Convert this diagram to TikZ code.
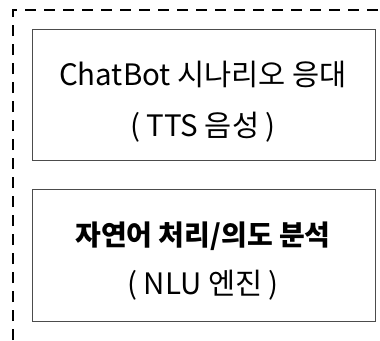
\documentclass[tikz,border=0pt]{standalone}
\usepackage{fontspec}
\setmainfont{Noto Sans CJK KR}
\begin{document}
\begin{tikzpicture}[x=1pt,y=-1pt,
  panel/.style={draw=black!70,line width=1.3pt,fill=white},
  txt/.style={font=\fontsize{29.5}{34}\selectfont,anchor=center,inner sep=0pt},
  outerdash/.style={draw=black,line width=2pt,dash pattern=on 11pt off 8pt}]
\useasboundingbox (0,0) rectangle (380,340);
\coordinate (tl) at (13,10);
\coordinate (tr) at (380,10);
\coordinate (bl) at (13,340);
\draw[outerdash] (bl) -- (tl) -- (tr);
\node[panel,minimum width=343pt,minimum height=131pt,anchor=north west] (b1) at (32,29) {};
\node[panel,minimum width=343pt,minimum height=132pt,anchor=north west] (b2) at (32,189) {};
\node[txt] (t1) at (203,74) {ChatBot 시나리오 응대};
\node[txt] (t2) at (203,127) {( TTS 음성 )};
\node[txt,font=\fontsize{28}{32}\selectfont\bfseries] (t3) at (203,236) {자연어 처리/의도 분석};
\node[txt] (t4) at (203,285) {( NLU 엔진 )};
\end{tikzpicture}
\end{document}
